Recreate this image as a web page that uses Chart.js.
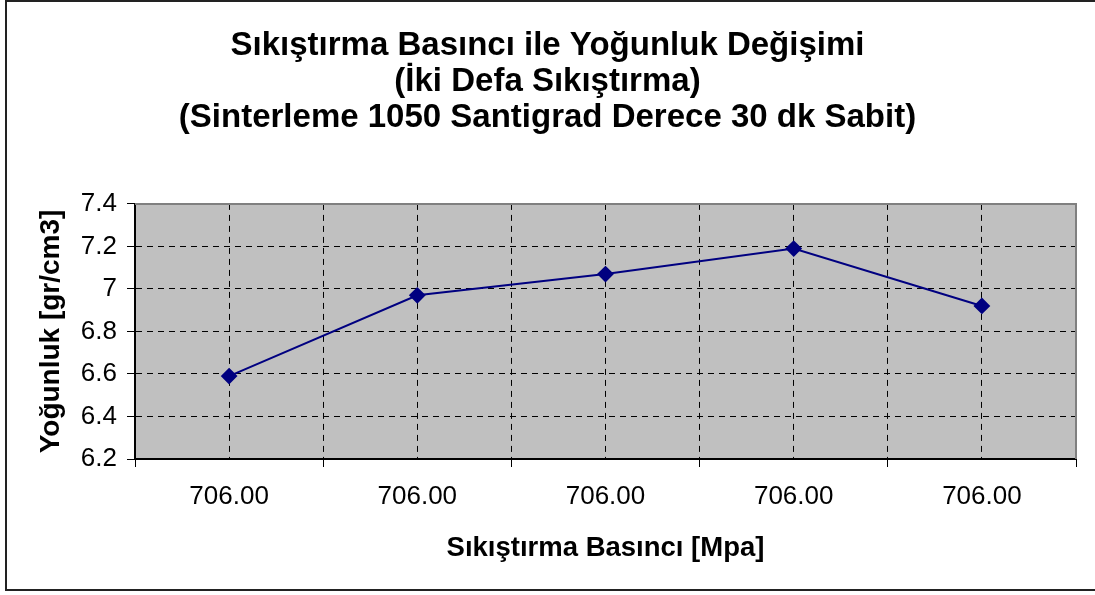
<!DOCTYPE html>
<html>
<head>
<meta charset="utf-8">
<script src="https://cdn.jsdelivr.net/npm/chart.js@4"></script>
<style>
  html, body { margin: 0; padding: 0; background: #fff; }
  #wrap { position: relative; width: 1095px; height: 595px; }
</style>
</head>
<body>
<div id="wrap"><canvas id="densityChart" width="1095" height="595"></canvas></div>
<script>
const pressures = ["706.00", "706.00", "706.00", "706.00", "706.00"];
const density = [6.59, 6.97, 7.07, 7.19, 6.92];
const yTicks = [6.2, 6.4, 6.6, 6.8, 7, 7.2, 7.4];

const titleLines = [
  "Sıkıştırma Basıncı ile Yoğunluk Değişimi",
  "(İki Defa Sıkıştırma)",
  "(Sinterleme 1050 Santigrad Derece 30 dk Sabit)",
];

const FONT = "'Liberation Sans', Arial, sans-serif";
Chart.defaults.font.family = FONT;
Chart.defaults.color = "#000";

// gray plot background, gray frame on top/right, outer chart border
const frame = {
  id: "frame",
  beforeDraw(chart) {
    const { ctx, chartArea: a } = chart;
    ctx.save();
    ctx.fillStyle = "#c0c0c0";
    ctx.fillRect(a.left, a.top, a.right - a.left, a.bottom - a.top);
    ctx.strokeStyle = "#222";
    ctx.lineWidth = 2;
    ctx.strokeRect(6, 1, 1100, 589);
    ctx.restore();
  },
  beforeDatasetsDraw(chart) {
    const { ctx, chartArea: a } = chart;
    ctx.save();
    ctx.strokeStyle = "#808080";
    ctx.lineWidth = 2;
    ctx.beginPath();
    ctx.moveTo(a.left, a.top);
    ctx.lineTo(a.right, a.top);
    ctx.lineTo(a.right, a.bottom);
    ctx.stroke();
    ctx.restore();
  },
};

new Chart(document.getElementById("densityChart"), {
  type: "line",
  data: {
    labels: pressures,
    datasets: [
      {
        data: density,
        borderColor: "#000080",
        backgroundColor: "#000080",
        borderWidth: 2,
        pointStyle: "rectRot",
        pointRadius: 7,
        pointHoverRadius: 7,
        tension: 0,
        xAxisID: "x",
      },
    ],
  },
  options: {
    responsive: false,
    animation: false,
    layout: { padding: 0 },
    plugins: {
      legend: { display: false },
      tooltip: { enabled: false },
      title: {
        display: true,
        text: titleLines,
        color: "#000",
        font: { size: 33, weight: "bold", family: FONT, lineHeight: 1.09 },
        padding: { top: 28, bottom: 68 },
      },
    },
    scales: {
      x: {
        type: "category",
        position: "bottom",
        offset: true,
        grid: {
          offset: true,
          color: "#000",
          lineWidth: 1,
          tickColor: "#000",
          tickLength: 8,
        },
        border: { color: "#000", width: 2, dash: [6, 5] },
        ticks: { font: { size: 26 }, padding: 14, color: "#000" },
        title: {
          display: true,
          text: "Sıkıştırma Basıncı [Mpa]",
          font: { size: 27.5, weight: "bold" },
          color: "#000",
          padding: { top: 0, bottom: 30 },
        },
        afterFit(scale) { scale.height = 136; },
      },
      // second category axis only draws the dashed lines through each point
      xc: {
        type: "category",
        position: "bottom",
        offset: true,
        grid: { offset: false, color: "#000", lineWidth: 1, drawTicks: false },
        border: { display: false, dash: [6, 5] },
        ticks: { display: false },
        afterFit(scale) { scale.height = 0; },
      },
      y: {
        min: yTicks[0],
        max: yTicks[yTicks.length - 1],
        afterBuildTicks(scale) {
          scale.ticks = yTicks.map((v) => ({ value: v }));
        },
        grid: {
          color: "#000",
          lineWidth: 1,
          tickColor: "#000",
          tickLength: 8,
        },
        border: { color: "#000", width: 2, dash: [6, 5] },
        ticks: {
          font: { size: 26 },
          padding: 10,
          color: "#000",
          callback: (v) => String(+Number(v).toFixed(1)),
        },
        title: {
          display: true,
          text: "Yoğunluk [gr/cm3]",
          font: { size: 28, weight: "bold" },
          color: "#000",
          padding: { top: 34, bottom: 0 },
        },
        afterFit(scale) { scale.width = 135; },
      },
      // empty right-hand spacer so the title stays centred on the page
      yr: {
        position: "right",
        min: yTicks[0],
        max: yTicks[yTicks.length - 1],
        grid: { display: false },
        border: { display: false },
        ticks: { display: false },
        afterFit(scale) { scale.width = 19; },
      },
    },
  },
  plugins: [frame],
});
</script>
</body>
</html>
